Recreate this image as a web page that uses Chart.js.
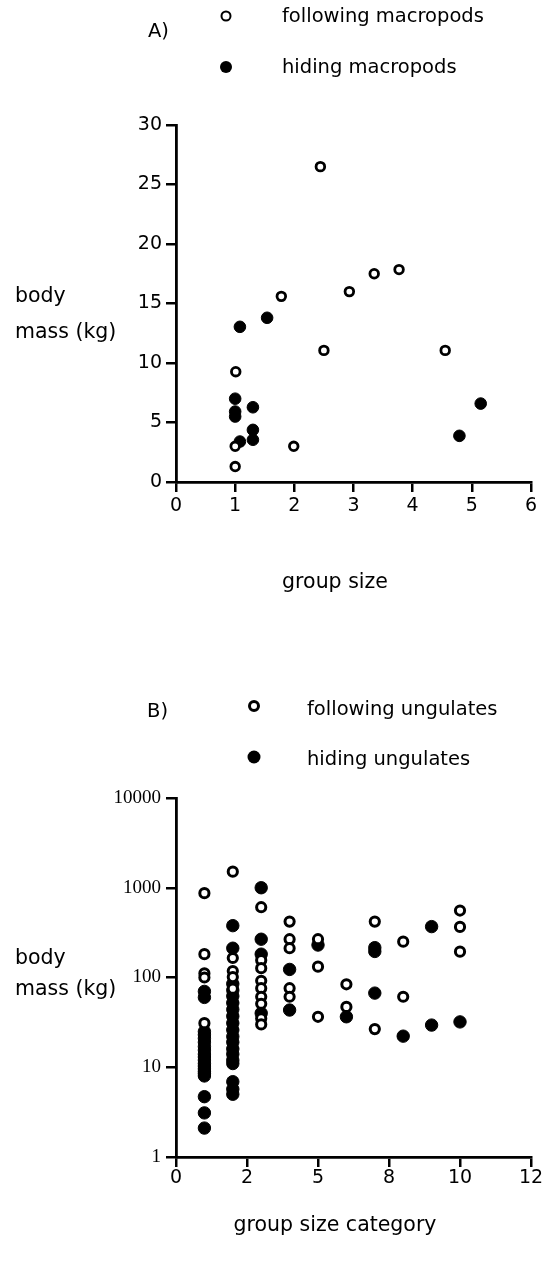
<!DOCTYPE html>
<html><head><meta charset="utf-8">
<script src="https://cdn.jsdelivr.net/npm/chart.js@4/dist/chart.umd.min.js"></script>
<style>
html,body{margin:0;padding:0;background:#fff;}
#page{position:relative;width:554px;height:1264px;overflow:hidden;font-family:"DejaVu Sans",sans-serif;color:#000;}
canvas{position:absolute;left:0;}
.t{position:absolute;white-space:nowrap;font-size:19.5px;line-height:24px;transform:translateY(-50%);}
.ax{font-size:20.5px;}
.mk{position:absolute;border-radius:50%;box-sizing:border-box;transform:translate(-50%,-50%);}
.open{background:#fff;border:2.6px solid #000;}
.fill{background:#000;}
</style></head><body>
<div id="page">
<canvas id="ca" width="554" height="620" style="top:0"></canvas>
<canvas id="cb" width="554" height="644" style="top:620px"></canvas>

<div class="t" style="left:148px;top:31px">A)</div>
<div class="mk open" style="left:226px;top:16px;width:11px;height:11px"></div>
<div class="mk fill" style="left:226px;top:67px;width:12px;height:12px"></div>
<div class="t" style="left:282px;top:16px">following macropods</div>
<div class="t" style="left:282px;top:67px">hiding macropods</div>
<div class="t ax" style="left:15px;top:295px">body</div>
<div class="t ax" style="left:15px;top:331px">mass (kg)</div>
<div class="t ax" style="left:335px;top:581px;transform:translate(-50%,-50%)">group size</div>

<div class="t" style="left:147px;top:711px">B)</div>
<div class="mk open" style="left:254px;top:706px;width:12px;height:12px;border-width:3px"></div>
<div class="mk fill" style="left:254px;top:757px;width:13px;height:13px"></div>
<div class="t" style="left:307px;top:709px">following ungulates</div>
<div class="t" style="left:307px;top:759px">hiding ungulates</div>
<div class="t ax" style="left:15px;top:957px">body</div>
<div class="t ax" style="left:15px;top:988px">mass (kg)</div>
<div class="t ax" style="left:335px;top:1224px;transform:translate(-50%,-50%)">group size category</div>
</div>

<script>
// ---- Panel A data (macropods) ----
const macroFollowGroup = [2.44, 1.78, 2.93, 3.35, 3.77, 2.5, 4.55, 1.01, 1.0, 1.99, 1.0];
const macroFollowMass  = [26.5, 15.6, 16.0, 17.5, 17.85, 11.06, 11.06, 9.27, 3.0, 3.0, 1.3];
const macroHideGroup   = [1.08, 1.54, 1.0, 1.0, 1.0, 1.3, 1.3, 1.3, 1.08, 4.79, 5.15];
const macroHideMass    = [13.04, 13.8, 7.0, 5.92, 5.5, 6.28, 4.38, 3.55, 3.4, 3.88, 6.59];
const aXTicks = [0, 1, 2, 3, 4, 5, 6];
const aYTicks = [0, 5, 10, 15, 20, 25, 30];

// ---- Panel B data (ungulates), group size category 1..10 ----
const ungFollowCat  = [1,1,1,1,1, 2,2,2,2,2, 3,3,3,3,3,3,3,3,3, 4,4,4,4,4, 5,5,5, 6,6, 7,7, 8,8, 10,10,10];
const ungFollowMass = [870,182,111,100,31, 1510,165,118,101,75, 607,156,127,92,76,61,51,35,30, 420,267,212,76,61, 267,132,36.5, 84,47, 420,26.6, 251,61, 557,366,194];
const ungHideCat  = [1,1,1,1,1,1,1,1,1,1,1,1,1,1,1,1,1,1,1,1, 2,2,2,2,2,2,2,2,2,2,2,2,2,2,2,2,2,2,2, 3,3,3,3, 4,4, 5, 6, 7,7,7, 8, 9,9, 10];
const ungHideMass = [70,60,25,23,21,19,17,15.5,14,13,12,11,10.3,9.6,9,8.5,8,4.7,3.1,2.1,
                     378,212,85,72,62,52,44,37,31,26,22,19,16,14,12,11,6.9,5.7,5.0,
                     1000,267,182,40, 123,43.4, 230, 36.5, 215,195,67, 22.2, 369,29.5, 32];
const bXTickPos    = [0, 2.5, 5, 7.5, 10, 12.5];
const bXTickLabels = ["0", "2", "5", "8", "10", "12"];
const bYTicks      = [1, 10, 100, 1000, 10000];
const bYTickLabels = ["1", "10", "100", "1000", "10000"];

function pts(xs, ys){ return xs.map((x,i)=>({x:x, y:ys[i]})); }

const axisCommon = () => ({
  grid:{display:true, drawOnChartArea:false, drawTicks:true, tickLength:10, color:'#000', lineWidth:2.5},
  border:{display:true, color:'#000', width:2.8},
});

const sans = {family:'"DejaVu Sans", sans-serif', size:19};
const serif = {family:'"Liberation Serif", serif', size:19};

Chart.defaults.color = '#000';

new Chart(document.getElementById('ca'), {
  type:'scatter',
  data:{datasets:[
    {label:'following macropods', data:pts(macroFollowGroup, macroFollowMass), pointRadius:4.3, pointBorderWidth:2.8, pointBackgroundColor:'#fff', pointBorderColor:'#000', clip:false},
    {label:'hiding macropods', data:pts(macroHideGroup, macroHideMass), pointRadius:5.8, pointBorderWidth:1, pointBackgroundColor:'#000', pointBorderColor:'#000', clip:false}
  ]},
  options:{
    responsive:false, animation:false, devicePixelRatio:1,
    layout:{padding:{top:125, left:100, right:23, bottom:88}},
    plugins:{legend:{display:false}, tooltip:{enabled:false}},
    scales:{
      x:{type:'linear', min:0, max:6, ...axisCommon(),
         afterBuildTicks:(s)=>{s.ticks = aXTicks.map(v=>({value:v}));},
         afterFit:(s)=>{s.height = 50;},
         ticks:{font:sans, padding:3, maxRotation:0, callback:(v)=>String(v)}},
      y:{type:'linear', min:0, max:30, ...axisCommon(),
         afterBuildTicks:(s)=>{s.ticks = aYTicks.map(v=>({value:v}));},
         afterFit:(s)=>{s.width = 76;},
         ticks:{font:sans, padding:4, callback:(v)=>String(v)}}
    }
  }
});

new Chart(document.getElementById('cb'), {
  type:'scatter',
  data:{datasets:[
    {label:'following ungulates', data:pts(ungFollowCat, ungFollowMass), pointRadius:4.6, pointBorderWidth:3, pointBackgroundColor:'#fff', pointBorderColor:'#000', clip:false},
    {label:'hiding ungulates', data:pts(ungHideCat, ungHideMass), pointRadius:6.2, pointBorderWidth:1, pointBackgroundColor:'#000', pointBorderColor:'#000', clip:false}
  ]},
  options:{
    responsive:false, animation:false, devicePixelRatio:1,
    layout:{padding:{top:178, left:100, right:23, bottom:57}},
    plugins:{legend:{display:false}, tooltip:{enabled:false}},
    scales:{
      x:{type:'linear', min:0, max:12.5, ...axisCommon(),
         afterBuildTicks:(s)=>{s.ticks = bXTickPos.map(v=>({value:v}));},
         afterFit:(s)=>{s.height = 50;},
         ticks:{font:sans, padding:0, maxRotation:0, callback:(v,i)=>bXTickLabels[i]}},
      y:{type:'logarithmic', min:1, max:10000, ...axisCommon(),
         afterBuildTicks:(s)=>{s.ticks = bYTicks.map(v=>({value:v}));},
         afterFit:(s)=>{s.width = 76;},
         ticks:{font:serif, padding:5, callback:(v,i)=>bYTickLabels[i]}}
    }
  }
});
</script>
</body></html>
